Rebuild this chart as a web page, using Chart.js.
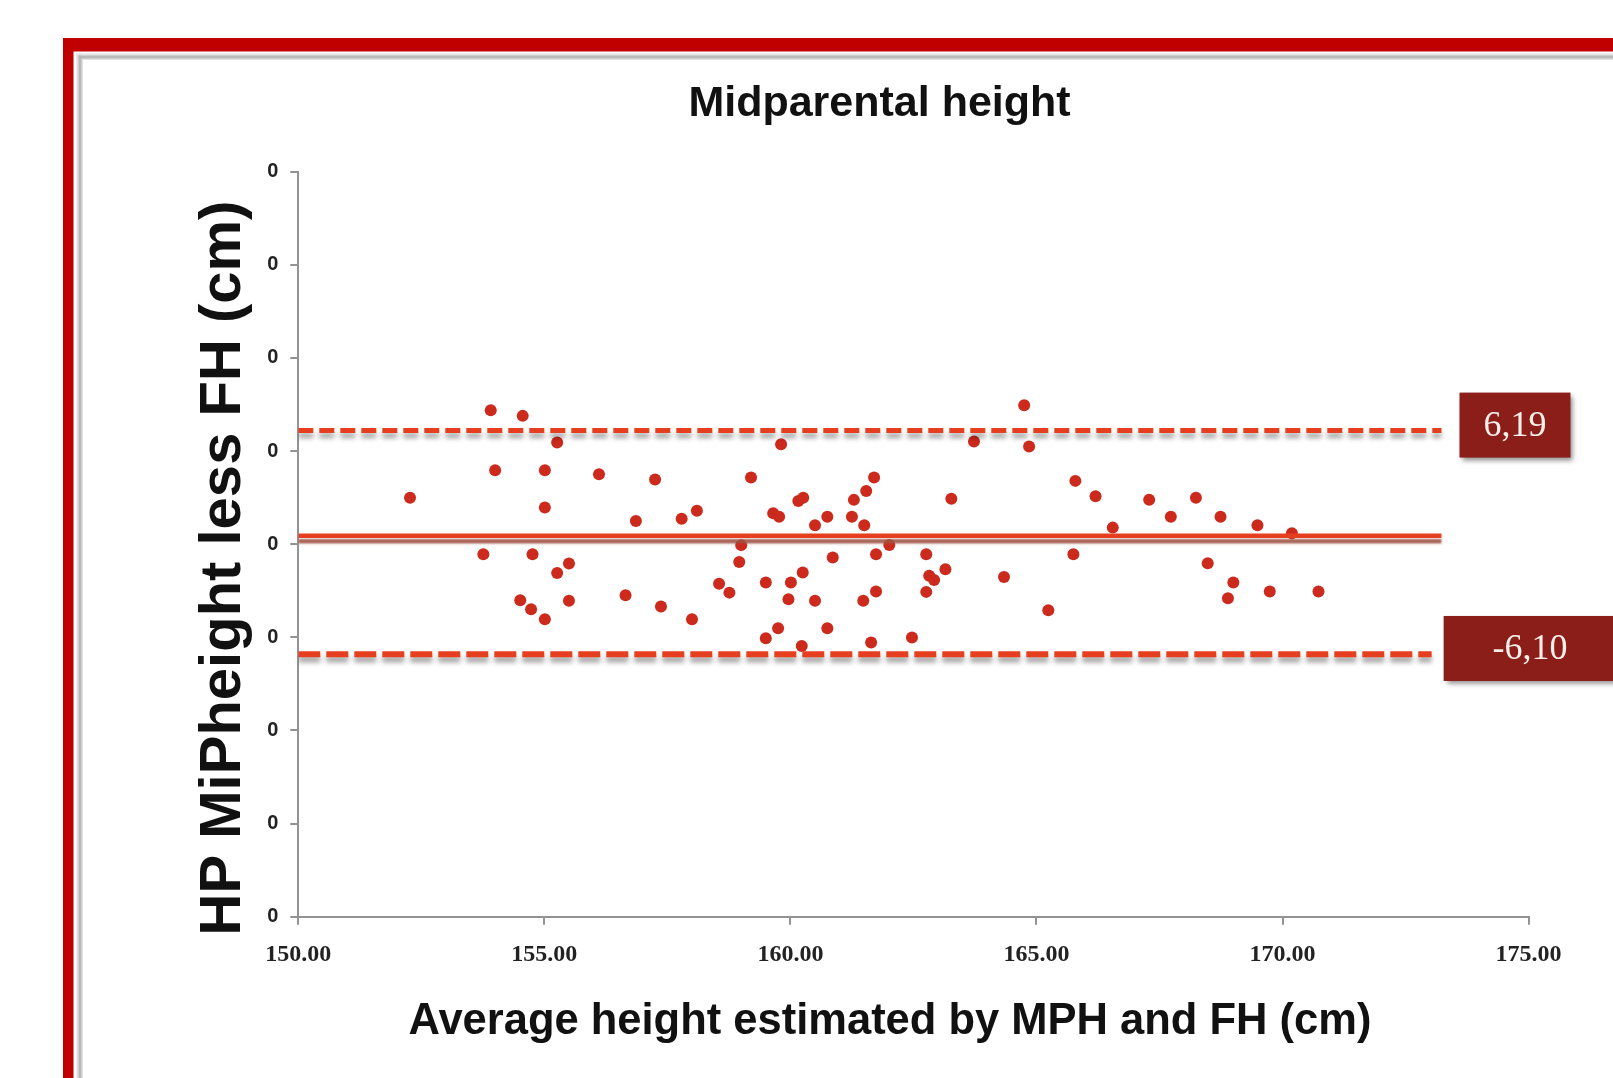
<!DOCTYPE html>
<html>
<head>
<meta charset="utf-8">
<script src="https://cdn.jsdelivr.net/npm/chart.js@4.4.0/dist/chart.umd.min.js"></script>
<style>
html,body{margin:0;padding:0;background:#fff;overflow:hidden}
canvas{display:block}
</style>
</head>
<body>
<canvas id="c" width="1613" height="1078"></canvas>
<script>
// ---- data ----
const avgHeight = [
  153.91,154.56,155.26,159.81,154.00,155.01,156.11,157.25,159.20,152.27,
  155.01,161.70,161.54,161.29,160.26,160.16,159.65,159.77,158.10,157.79,
  156.86,160.75,160.50,161.25,161.50,159.00,153.76,154.76,158.96,160.86,
  161.74,155.50,155.26,160.25,159.50,160.01,158.55,158.76,154.51,154.73,
  155.01,155.50,156.65,157.37,158.00,159.96,160.50,161.48,161.74,159.75,
  159.50,160.75,160.23,161.64,164.75,163.73,164.85,163.27,165.79,166.20,
  167.29,167.73,168.24,168.74,169.49,166.55,170.19,162.01,162.76,165.75,
  163.15,162.82,162.92,164.34,168.48,169.00,168.89,169.74,170.73,162.76,
  165.24,162.47
];
const heightDiff = [
  7.19,6.89,5.46,5.37,3.97,3.97,3.76,3.47,3.58,2.50,
  1.97,3.58,2.86,2.38,2.50,2.32,1.66,1.47,1.79,1.37,
  1.25,1.48,1.02,1.48,1.02,-0.05,-0.54,-0.54,-0.95,-0.72,
  -0.54,-1.04,-1.54,-1.52,-2.06,-2.06,-2.12,-2.60,-3.01,-3.49,
  -4.03,-3.04,-2.74,-3.35,-4.03,-2.95,-3.04,-3.04,-2.54,-4.51,
  -5.05,-4.51,-5.46,-5.28,7.46,5.51,5.24,2.44,3.40,2.58,
  2.39,1.48,2.50,1.48,1.02,0.89,0.59,-0.04,-0.54,-0.54,
  -1.34,-1.70,-1.92,-1.76,-1.02,-2.06,-2.90,-2.54,-2.54,-2.56,
  -3.54,-5.01
];
const xTickLabels = ['150.00','155.00','160.00','165.00','170.00','175.00'];
const yTickLabels = ['0','0','0','0','0','0','0','0','0'];

const meanLineY = 0.45;
const upperLineY = 6.10;
const lowerLineY = -5.91;
const lineStartX = 150;
const upperLineEndX = 173.23;
const meanLineEndX = 173.23;
const lowerLineEndX = 173.03;
const upperLabel = '6,19';
const lowerLabel = '-6,10';

const chartTitle = 'Midparental height';
const xAxisTitle = 'Average height estimated by MPH and FH (cm)';
const yAxisTitle = 'HP MiPheight less FH (cm)';

// ---- build datasets ----
const points = avgHeight.map((x, i) => ({x: x, y: heightDiff[i]}));
const LINE_RED = '#E63F1F';

const shadowPlugin = {
  id: 'dsShadow',
  beforeDatasetDraw(chart, args) {
    const s = chart.data.datasets[args.index].shadow;
    if (!s) return;
    const ctx = chart.ctx;
    ctx.save();
    ctx.shadowColor = s.color;
    ctx.shadowBlur = s.blur;
    ctx.shadowOffsetX = 0;
    ctx.shadowOffsetY = s.offsetY;
  },
  afterDatasetDraw(chart, args) {
    const s = chart.data.datasets[args.index].shadow;
    if (!s) return;
    chart.ctx.restore();
  }
};

const framePlugin = {
  id: 'frame',
  beforeDraw(chart) {
    const ctx = chart.ctx;
    const W = chart.width, H = chart.height;
    ctx.save();
    ctx.fillStyle = '#ffffff';
    ctx.fillRect(0, 0, W, H);
    // red outer frame
    ctx.fillStyle = '#C00000';
    ctx.fillRect(63, 38, W - 63, 13.5);
    ctx.fillRect(63, 38, 10.5, H - 38);
    // inner grey rule with soft edge
    ctx.fillStyle = '#e2e2e2';
    ctx.fillRect(76.5, 53.5, W - 76.5, 7);
    ctx.fillRect(76.5, 53.5, 7, H - 53.5);
    ctx.fillStyle = '#b9b9b9';
    ctx.fillRect(78.5, 55.5, W - 78.5, 3);
    ctx.fillRect(78.5, 55.5, 3, H - 55.5);
    ctx.fillStyle = '#ffffff';
    ctx.fillRect(83, 60, W - 83, H - 60);
    ctx.restore();
  },
  afterDraw(chart) {
    const ctx = chart.ctx;
    const xs = chart.scales.x, ys = chart.scales.y;
    ctx.save();
    // main title
    ctx.fillStyle = '#111';
    ctx.textAlign = 'center';
    ctx.textBaseline = 'alphabetic';
    ctx.font = 'bold 43px "Liberation Sans", Arial, sans-serif';
    ctx.fillText(chartTitle, 879.5, 116);
    // x axis title
    ctx.font = 'bold 43.5px "Liberation Sans", Arial, sans-serif';
    ctx.fillText(xAxisTitle, 890, 1034);
    // y axis title
    ctx.save();
    ctx.translate(239.5, 568);
    ctx.rotate(-Math.PI / 2);
    ctx.font = 'bold 58px "Liberation Sans", Arial, sans-serif';
    ctx.fillText(yAxisTitle, 0, 0);
    ctx.restore();

    // value boxes
    const boxes = [
      {text: upperLabel, left: xs.getPixelForValue(upperLineEndX) + 18, right: xs.getPixelForValue(upperLineEndX) + 129,
       cy: ys.getPixelForValue(upperLineY) - 5.5, tx: 1515},
      {text: lowerLabel, left: xs.getPixelForValue(lowerLineEndX) + 12, right: 1640,
       cy: ys.getPixelForValue(lowerLineY) - 5.8, tx: 1530}
    ];
    boxes.forEach(b => {
      ctx.save();
      ctx.shadowColor = 'rgba(0,0,0,0.45)';
      ctx.shadowBlur = 5;
      ctx.shadowOffsetX = 3;
      ctx.shadowOffsetY = 3;
      ctx.fillStyle = '#8C1E19';
      ctx.fillRect(b.left, b.cy - 32.5, b.right - b.left, 65);
      ctx.restore();
      ctx.fillStyle = '#FBEFEA';
      ctx.font = '36px "Liberation Serif", "DejaVu Serif", serif';
      ctx.textAlign = 'center';
      ctx.textBaseline = 'middle';
      ctx.fillText(b.text, b.tx, b.cy + 1);
    });
    ctx.restore();
  }
};

new Chart(document.getElementById('c'), {
  type: 'scatter',
  data: {
    datasets: [
      {
        label: 'Mean',
        data: [{x: lineStartX, y: meanLineY}, {x: meanLineEndX, y: meanLineY}],
        showLine: true, pointRadius: 0, borderColor: LINE_RED, borderWidth: 4.5,
        shadow: {color: 'rgba(160,82,68,0.9)', blur: 2, offsetY: 5.5}
      },
      {
        label: 'Upper limit',
        data: [{x: lineStartX, y: upperLineY}, {x: upperLineEndX, y: upperLineY}],
        showLine: true, pointRadius: 0, borderColor: LINE_RED, borderWidth: 5,
        borderDash: [15, 6],
        shadow: {color: 'rgba(0,0,0,0.38)', blur: 5, offsetY: 5}
      },
      {
        label: 'Lower limit',
        data: [{x: lineStartX, y: lowerLineY}, {x: lowerLineEndX, y: lowerLineY}],
        showLine: true, pointRadius: 0, borderColor: LINE_RED, borderWidth: 6,
        borderDash: [22, 6],
        shadow: {color: 'rgba(0,0,0,0.38)', blur: 5, offsetY: 5}
      },
      {
        label: 'Children',
        data: points,
        pointRadius: 6,
        pointBorderWidth: 0,
        pointBackgroundColor: '#CC2A1D',
        borderColor: '#CC2A1D'
      }
    ]
  },
  options: {
    responsive: false,
    devicePixelRatio: 1,
    animation: false,
    events: [],
    layout: {padding: {left: 0, right: 84.4, top: 171.7, bottom: 0}},
    plugins: {
      legend: {display: false},
      tooltip: {enabled: false},
      title: {display: false}
    },
    scales: {
      x: {
        type: 'linear',
        min: 150, max: 175,
        ticks: {
          stepSize: 5,
          padding: 16,
          color: '#222',
          font: {family: '"Liberation Serif", serif', size: 24, weight: 'bold'},
          callback: (v, i) => xTickLabels[i]
        },
        grid: {drawOnChartArea: false, drawTicks: true, tickLength: 8, color: '#939393', lineWidth: 2},
        border: {display: true, color: '#939393', width: 2},
        afterFit: (s) => { s.height = 161.3; }
      },
      y: {
        type: 'linear',
        min: -20, max: 20,
        ticks: {
          stepSize: 5,
          padding: 12,
          color: '#222',
          font: {family: '"Liberation Sans", Arial, sans-serif', size: 20, weight: 'bold'},
          callback: (v, i) => yTickLabels[i]
        },
        grid: {drawOnChartArea: false, drawTicks: true, tickLength: 8, color: '#939393', lineWidth: 2},
        border: {display: true, color: '#939393', width: 2},
        afterFit: (s) => { s.width = 298.3; }
      }
    }
  },
  plugins: [framePlugin, shadowPlugin]
});
</script>
</body>
</html>
